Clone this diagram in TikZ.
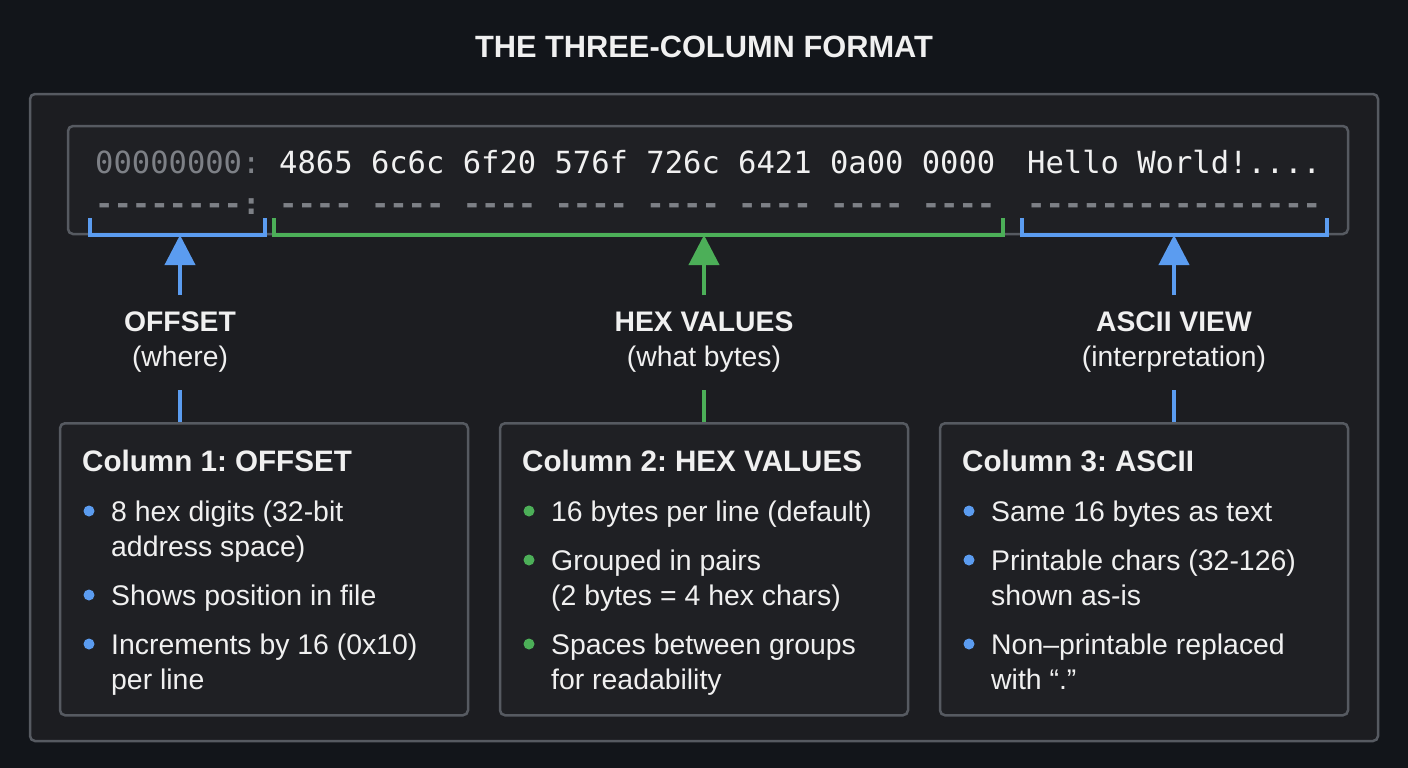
\documentclass[tikz,border=0pt]{standalone}
\usepackage{fontspec}
\setmainfont{Liberation Sans}
\newfontfamily\monof{DejaVu Sans Mono}
\usetikzlibrary{arrows.meta}
\frenchspacing
\definecolor{bgc}{HTML}{12151A}
\definecolor{panelc}{HTML}{1C1D21}
\definecolor{boxc}{HTML}{1F2024}
\definecolor{borderc}{HTML}{565A61}
\definecolor{txtc}{HTML}{F0F0F0}
\definecolor{grayc}{HTML}{7D8086}
\definecolor{bluec}{HTML}{5B9CF0}
\definecolor{greenc}{HTML}{4CAF58}
\tikzset{
  panel/.style={draw=borderc, line width=2.5pt, rounded corners=5pt, fill=panelc, inner sep=0pt},
  card/.style={draw=borderc, line width=2.5pt, rounded corners=5pt, fill=boxc, inner sep=0pt, minimum width=408pt, minimum height=292pt, anchor=north},
  mono/.style={font=\monof\fontsize{30.5}{34}\selectfont, inner sep=0pt, anchor=base west},
  dashl/.style={font=\monof\bfseries\fontsize{30.5}{34}\selectfont, inner sep=0pt, anchor=base west, text=grayc},
  ctitle/.style={font=\fontsize{29.6}{34}\selectfont\bfseries, text=txtc, inner sep=0pt, anchor=base west},
  btxt/.style={font=\fontsize{28.4}{30}\selectfont, text=txtc, inner sep=0pt, anchor=base west},
  lbl/.style={font=\fontsize{28.3}{35}\selectfont, text=txtc, align=center, inner sep=0pt},
  brk/.style={line width=3.5pt},
  upar/.style={line width=4pt, -{Triangle[width=30pt,length=30pt]}},
  conn/.style={line width=4pt},
  dotb/.style={circle, fill=#1, inner sep=0pt, minimum size=11pt},
}
\begin{document}
\begin{tikzpicture}[x=1pt,y=-1pt]
\fill[bgc] (0,0) rectangle (1408,768);
\useasboundingbox (0,0) rectangle (1408,768);
% title
\node[font=\fontsize{30.8}{34}\selectfont\bfseries, text=txtc, inner sep=0pt] (title) at (704,47) {THE THREE-COLUMN FORMAT};
% outer panel
\node[panel, minimum width=1348pt, minimum height=647pt] (outer) at (704,417.5) {};
% hex box
\node[panel, fill=boxc, minimum width=1280pt, minimum height=108pt] (hexbox) at (708,180) {};
% hex line
\node[mono, text=grayc] (off) at (95,173) {00000000:};
\node[mono, text=txtc] (hex) at (279,173) {4865 6c6c 6f20 576f 726c 6421 0a00 0000};
\node[mono, text=txtc] (asc) at (1027,173) {Hello World!....};
\node[dashl] (doff) at (95,214) {--------:};
\node[dashl] (dhex) at (279,214) {---- ---- ---- ---- ---- ---- ---- ----};
\node[dashl] (dasc) at (1027,214) {----------------};
% brackets
\coordinate (b1a) at (90,218); \coordinate (b1b) at (265,218); \coordinate (b1m) at (180,235);
\coordinate (b2a) at (274,218); \coordinate (b2b) at (1003,218); \coordinate (b2m) at (704,235);
\coordinate (b3a) at (1022,218); \coordinate (b3b) at (1327,218); \coordinate (b3m) at (1174,235);
\draw[brk, bluec] (b1a) |- (b1m) -| (b1b);
\draw[brk, greenc] (b2a) |- (b2m) -| (b2b);
\draw[brk, bluec] (b3a) |- (b3m) -| (b3b);
% labels
\node[lbl] (l1) at (180,342) {\textbf{OFFSET}\\(where)};
\node[lbl] (l2) at (704,342) {\textbf{HEX VALUES}\\(what bytes)};
\node[lbl] (l3) at (1174,342) {\textbf{ASCII VIEW}\\(interpretation)};
\coordinate (t1) at (180,295); \coordinate (t2) at (704,295); \coordinate (t3) at (1174,295);
\draw[upar, bluec] (t1) -- (b1m);
\draw[upar, greenc] (t2) -- (b2m);
\draw[upar, bluec] (t3) -- (b3m);
% cards
\node[card] (c1) at (264,422) {};
\node[card] (c2) at (704,422) {};
\node[card] (c3) at (1144,422) {};
\coordinate (s1) at (180,390); \coordinate (s2) at (704,390); \coordinate (s3) at (1174,390);
\draw[conn, bluec] (s1) -- (s1 |- c1.north);
\draw[conn, greenc] (s2) -- (s2 |- c2.north);
\draw[conn, bluec] (s3) -- (s3 |- c3.north);
% card 1
\node[ctitle] (c1t) at (82,471) {Column 1: OFFSET};
\node[dotb=bluec] (c1d1) at (89,511) {};
\node[btxt] (c1a) at (111,521) {8 hex digits (32-bit};
\node[btxt] (c1b) at (111,556) {address space)};
\node[dotb=bluec] (c1d2) at (89,595) {};
\node[btxt] (c1c) at (111,605) {Shows position in file};
\node[dotb=bluec] (c1d3) at (89,644) {};
\node[btxt] (c1e) at (111,654) {Increments by 16 (0x10)};
\node[btxt] (c1f) at (111,689) {per line};
% card 2
\node[ctitle] (c2t) at (522,471) {Column 2: HEX VALUES};
\node[dotb=greenc] (c2d1) at (529,511) {};
\node[btxt] (c2a) at (551,521) {16 bytes per line (default)};
\node[dotb=greenc] (c2d2) at (529,560) {};
\node[btxt] (c2b) at (551,570) {Grouped in pairs};
\node[btxt] (c2c) at (551,605) {(2 bytes = 4 hex chars)};
\node[dotb=greenc] (c2d3) at (529,644) {};
\node[btxt] (c2e) at (551,654) {Spaces between groups};
\node[btxt] (c2f) at (551,689) {for readability};
% card 3
\node[ctitle] (c3t) at (962,471) {Column 3: ASCII};
\node[dotb=bluec] (c3d1) at (969,511) {};
\node[btxt] (c3a) at (991,521) {Same 16 bytes as text};
\node[dotb=bluec] (c3d2) at (969,560) {};
\node[btxt] (c3b) at (991,570) {Printable chars (32-126)};
\node[btxt] (c3c) at (991,605) {shown as-is};
\node[dotb=bluec] (c3d3) at (969,644) {};
\node[btxt] (c3e) at (991,654) {Non–printable replaced};
\node[btxt] (c3f) at (991,689) {with “.”};
\end{tikzpicture}
\end{document}
